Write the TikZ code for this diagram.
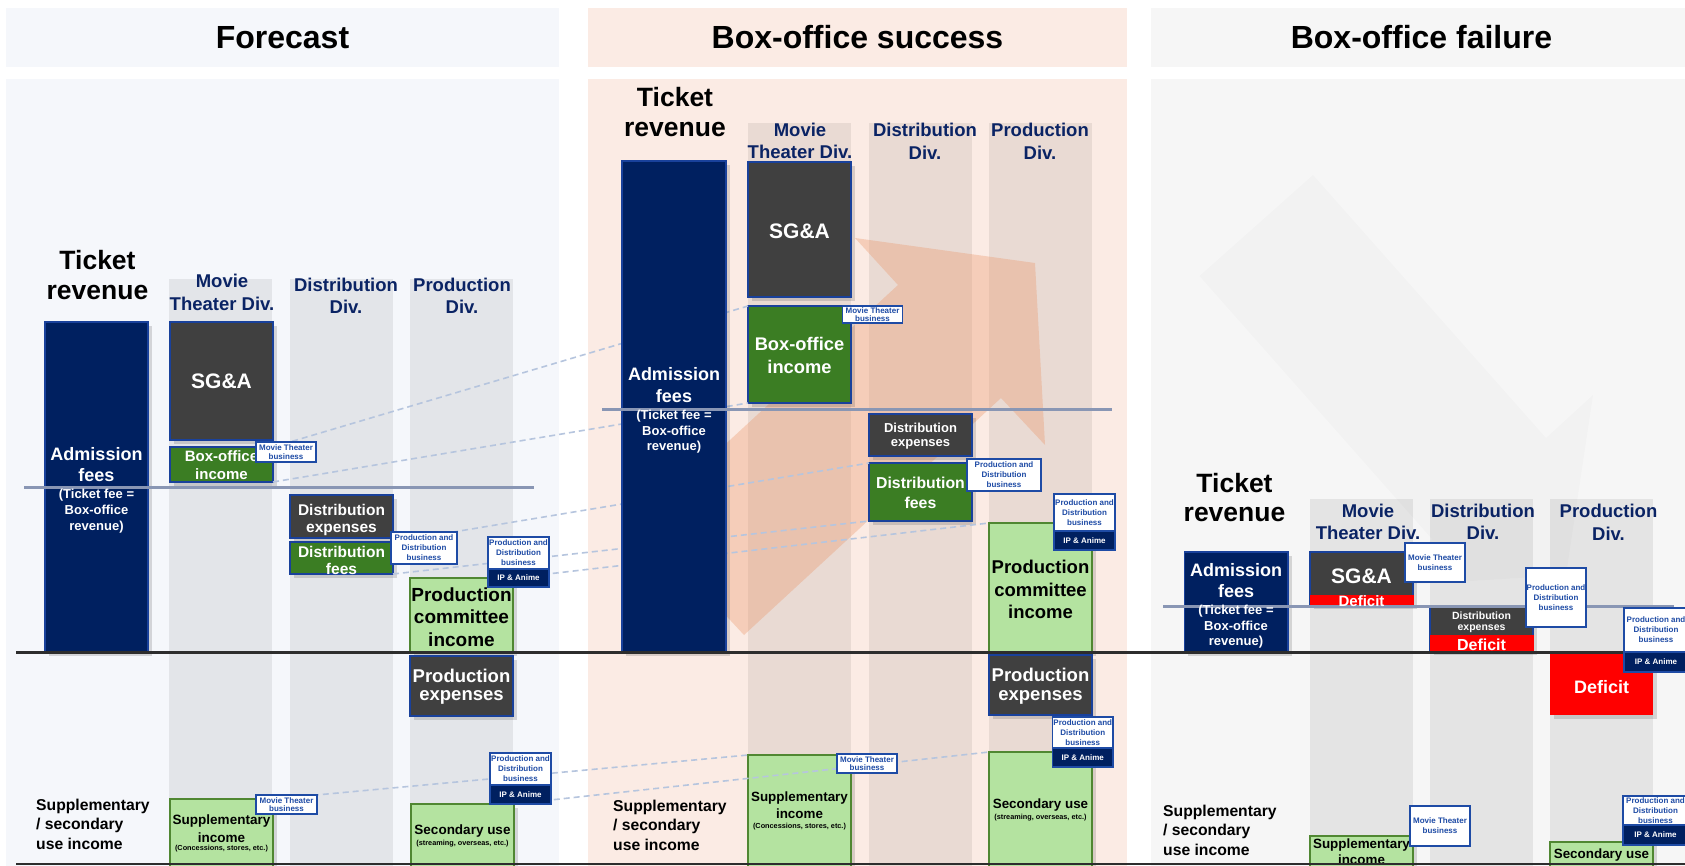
\documentclass[tikz,border=0pt]{standalone}
\usepackage{fontspec}
\setmainfont{Liberation Sans}
\usetikzlibrary{shadows}
\definecolor{navy}{RGB}{0,32,96}
\definecolor{bord}{RGB}{25,65,155}
\definecolor{dgray}{RGB}{64,64,64}
\definecolor{dgreen}{RGB}{59,125,35}
\definecolor{lgreen}{RGB}{180,227,160}
\definecolor{lgborder}{RGB}{80,135,50}
\definecolor{tagblue}{RGB}{30,75,165}
\definecolor{midline}{RGB}{137,150,180}
\definecolor{basec}{RGB}{45,45,45}
\definecolor{dashc}{RGB}{182,197,222}
\definecolor{fbg}{RGB}{245,247,251}
\definecolor{sbg}{RGB}{251,235,228}
\definecolor{xbg}{RGB}{246,246,246}
\definecolor{arrowc}{RGB}{235,150,105}
\definecolor{divc}{RGB}{10,35,100}
\newcommand\myfs[2]{\fontsize{#1}{#2}\selectfont\bfseries}
\newcommand\mkrect[6]{\node[#2, anchor=north west, minimum width={(#5-#3)*1pt}, minimum height={(#6-#4)*1pt}] (#1) at (#3,#4) {};}
\newcommand\mytl[6]{\node[anchor=base, inner sep=0pt, text=#5, font=#4] (#1) at (#2,#3) {#6};}
\newcommand\mytll[6]{\node[anchor=base west, inner sep=0pt, text=#5, font=#4] (#1) at (#2,#3) {#6};}
\newcommand\mttag[6]{\mkrect{#1}{tagbox}{#2}{#3}{#4}{#5}
  \node[tagtxt, font=\myfs{8}{#6}] (#1t) at (#1.center) {Movie Theater\\business};}
\newcommand\pdtag[5]{\mkrect{#1}{tagbox}{#2}{#3}{#4}{#5}
  \node[tagtxt] (#1t) at (#1.center) {Production and\\Distribution\\business};}
\newcommand\iptag[6]{\mkrect{#1}{tagbox}{#2}{#3}{#4}{#5}
  \mkrect{#1n}{ipbox}{#2}{#5}{#4}{#6}
  \node[tagtxt] (#1t) at (#1.center) {Production and\\Distribution\\business};
  \node[tagtxt, text=white] (#1i) at (#1n.center) {IP \& Anime};}
\tikzset{
 panel/.style={draw=none, inner sep=0pt, outer sep=0pt},
 band/.style={draw=none, fill=black, fill opacity=0.07, inner sep=0pt, outer sep=0pt},
 shad/.style={drop shadow={shadow xshift=3.5pt, shadow yshift=-3.5pt, opacity=0.2, fill=black!70}},
 boxbase/.style={line width=1.5pt, inner sep=0pt, outer sep=0pt, shad},
 navybox/.style={boxbase, draw=bord, fill=navy},
 graybox/.style={boxbase, draw=bord, fill=dgray},
 greenbox/.style={boxbase, draw=bord, fill=dgreen},
 lightbox/.style={boxbase, draw=lgborder, fill=lgreen},
 redstrip/.style={draw=none, fill=red, inner sep=0pt, outer sep=0pt},
 redbox/.style={redstrip, shad},
 tagbox/.style={draw=tagblue, fill=white, line width=1.2pt, inner sep=0pt, outer sep=0pt},
 ipbox/.style={draw=tagblue, fill=navy, line width=1.2pt, inner sep=0pt, outer sep=0pt},
 tagtxt/.style={text=tagblue, align=center, inner sep=0pt, font=\myfs{8}{10}},
 dashline/.style={draw=dashc, line width=1.6pt, dash pattern=on 6pt off 4pt},
 midl/.style={draw=midline, line width=3pt},
 basel/.style={draw=basec, line width=2.5pt},
}
\begin{document}
\begin{tikzpicture}[x=1pt,y=-1pt]
\useasboundingbox (0,0) rectangle (1685,865);
\begin{scope}
\clip (0,0) rectangle (1685,865);
\fill[white] (0,0) rectangle (1685,865);
% panels
\mkrect{fhead}{panel, fill=fbg}{6}{8}{559}{67}
\mkrect{fbody}{panel, fill=fbg}{6}{79}{559}{866}
\mkrect{shead}{panel, fill=sbg}{587.5}{8}{1127}{67}
\mkrect{sbody}{panel, fill=sbg}{587.5}{79}{1127}{866}
\mkrect{xhead}{panel, fill=xbg}{1151}{8}{1690}{67}
\mkrect{xbody}{panel, fill=xbg}{1151}{79}{1690}{866}
% bands
\mkrect{fb1}{band}{169}{279}{272}{866}
\mkrect{fb2}{band}{290}{279}{393}{866}
\mkrect{fb3}{band}{410}{279}{513}{866}
\mkrect{sb1}{band}{748}{123}{851}{866}
\mkrect{sb2}{band}{869}{123}{972}{866}
\mkrect{sb3}{band}{989}{123}{1092}{866}
\mkrect{xb1}{band}{1310}{499}{1413}{866}
\mkrect{xb2}{band}{1430}{499}{1533}{866}
\mkrect{xb3}{band}{1550}{499}{1653}{866}
% arrows
\fill[arrowc, opacity=0.35] (640,523) -- (898,285) -- (855,238) -- (1035,263) -- (1045,445) -- (1001,398) -- (744,635) -- cycle;
\fill[black, opacity=0.017] (1199.5,276) -- (1313,175) -- (1546,438) -- (1593,395) -- (1566,575) -- (1389,586) -- (1432,539) -- cycle;
% forecast boxes
\mkrect{fsga}{graybox}{170}{322}{273}{440}
\mkrect{fbo}{greenbox}{170}{447}{273}{482}
\mkrect{fdx}{graybox}{290}{495}{393}{538}
\mkrect{fdf}{greenbox}{290}{542}{393}{574}
\mkrect{fpci}{lightbox}{410}{578}{513}{652}
\mkrect{fpx}{graybox}{410}{656}{513}{716}
\mkrect{fsup}{lightbox}{170}{799}{273}{872}
\mkrect{fsec}{lightbox}{411}{804}{514}{872}
% success boxes
\mkrect{ssga}{graybox}{748}{162}{851}{297}
\mkrect{sbo}{greenbox}{748}{306}{851}{403}
\mkrect{sdx}{graybox}{869}{414}{972}{456}
\mkrect{sdf}{greenbox}{869}{463}{972}{521}
\mkrect{spci}{lightbox}{989}{523}{1092}{652}
\mkrect{spx}{graybox}{989}{655}{1092}{715}
\mkrect{ssup}{lightbox}{748}{755}{851}{872}
\mkrect{ssec}{lightbox}{989}{752}{1092}{872}
% failure boxes
\mkrect{xsga}{graybox}{1310}{552}{1413}{605}
\mkrect{xsgad}{redstrip}{1309.5}{595}{1413.5}{605.5}
\mkrect{xdx}{graybox}{1430}{607}{1533}{651}
\mkrect{xdxd}{redstrip}{1429.5}{635}{1533.5}{651.5}
\mkrect{xpd}{redbox}{1550}{652}{1653}{715}
\mkrect{xsup}{lightbox}{1310}{836}{1413}{872}
\mkrect{xsec}{lightbox}{1550}{842}{1653}{872}
% box texts (forecast)
\mytl{fsgat}{221.5}{388.5}{\myfs{21}{24}}{white}{SG\&A}
\mytl{fbot1}{221.5}{461.5}{\myfs{15}{18}}{white}{Box-office}
\mytl{fbot2}{221.5}{479.5}{\myfs{15}{18}}{white}{income}
\mytl{fdxt1}{341.5}{515}{\myfs{15.5}{18}}{white}{Distribution}
\mytl{fdxt2}{341.5}{532}{\myfs{15.5}{18}}{white}{expenses}
\mytl{fdft1}{341.5}{557}{\myfs{15.5}{18}}{white}{Distribution}
\mytl{fdft2}{341.5}{574}{\myfs{15.5}{18}}{white}{fees}
\mytl{fpcit1}{461.5}{601.5}{\myfs{19}{22}}{black}{Production}
\mytl{fpcit2}{461.5}{623.5}{\myfs{19}{22}}{black}{committee}
\mytl{fpcit3}{461.5}{646}{\myfs{19}{22}}{black}{income}
\mytl{fpxt1}{461.5}{682.5}{\myfs{18.5}{21}}{white}{Production}
\mytl{fpxt2}{461.5}{700.5}{\myfs{18.5}{21}}{white}{expenses}
\mytl{fsupt1}{221.5}{824.5}{\myfs{13.5}{16}}{black}{Supplementary}
\mytl{fsupt2}{221.5}{842}{\myfs{13.5}{16}}{black}{income}
\mytl{fsupt3}{221.5}{850.5}{\myfs{7.3}{8}}{black}{(Concessions, stores, etc.)}
\mytl{fsect1}{462.5}{834.5}{\myfs{13.5}{16}}{black}{Secondary use}
\mytl{fsect2}{462.5}{845.5}{\myfs{7.3}{8}}{black}{(streaming, overseas, etc.)}
% box texts (success)
\mytl{ssgat}{799.5}{238.5}{\myfs{21}{24}}{white}{SG\&A}
\mytl{sbot1}{799.5}{350.5}{\myfs{18.3}{22}}{white}{Box-office}
\mytl{sbot2}{799.5}{373}{\myfs{18.3}{22}}{white}{income}
\mytl{sdxt1}{920.5}{432}{\myfs{13}{16}}{white}{Distribution}
\mytl{sdxt2}{920.5}{446}{\myfs{13}{16}}{white}{expenses}
\mytl{sdft1}{920.5}{488}{\myfs{15.8}{20}}{white}{Distribution}
\mytl{sdft2}{920.5}{508.5}{\myfs{15.8}{20}}{white}{fees}
\mytl{spcit1}{1040.5}{573}{\myfs{18.5}{22}}{black}{Production}
\mytl{spcit2}{1040.5}{596}{\myfs{18.5}{22}}{black}{committee}
\mytl{spcit3}{1040.5}{618}{\myfs{18.5}{22}}{black}{income}
\mytl{spxt1}{1040.5}{681.5}{\myfs{18.5}{21}}{white}{Production}
\mytl{spxt2}{1040.5}{700}{\myfs{18.5}{21}}{white}{expenses}
\mytl{ssupt1}{799.5}{801.5}{\myfs{13.4}{16}}{black}{Supplementary}
\mytl{ssupt2}{799.5}{818.5}{\myfs{13.4}{16}}{black}{income}
\mytl{ssupt3}{799.5}{828.5}{\myfs{7.3}{8}}{black}{(Concessions, stores, etc.)}
\mytl{ssect1}{1040.5}{808.5}{\myfs{13.4}{16}}{black}{Secondary use}
\mytl{ssect2}{1040.5}{819}{\myfs{7.3}{8}}{black}{(streaming, overseas, etc.)}
% box texts (failure)
\mytl{xsgat}{1361.5}{583}{\myfs{21}{24}}{white}{SG\&A}
\mytl{xdxt1}{1481.5}{619}{\myfs{10.5}{12}}{white}{Distribution}
\mytl{xdxt2}{1481.5}{630}{\myfs{10.5}{12}}{white}{expenses}
\mytl{xdxdt}{1481.5}{650}{\myfs{16}{18}}{white}{Deficit}
\mytl{xpdt}{1601.5}{693}{\myfs{18}{20}}{white}{Deficit}
\mytl{xsupt1}{1361.5}{848}{\myfs{13.4}{16}}{black}{Supplementary}
\mytl{xsupt2}{1361.5}{864.5}{\myfs{13.4}{16}}{black}{income}
\mytl{xsect1}{1601.5}{858.5}{\myfs{13.4}{16}}{black}{Secondary use}
% dashed connectors forecast -> success
\draw[dashline] (fbo.north east) -- (sbo.north west);
\draw[dashline] (fbo.south east) -- (sbo.south west);
\draw[dashline] (fdf.north east) -- (sdf.north west);
\draw[dashline] (fdf.south east) -- (sdf.south west);
\draw[dashline] (fpci.north east) -- (spci.north west);
\draw[dashline] (fsup.north east) -- (ssup.north west);
\draw[dashline] (fsec.north east) -- (ssec.north west);
% admission boxes
\mkrect{fadm}{navybox}{45}{322}{148}{652}
\mkrect{sadm}{navybox}{622}{161}{726}{652}
\mkrect{xadm}{navybox}{1184.5}{552}{1288}{652}
% horizontal lines
\draw[midl] (24,487) -- (534,487);
\draw[midl] (602,409) -- (1112,409);
\draw[midl] (1163,606) -- (1673.5,606);
\draw[basel] (16,652.5) -- (1690,652.5);
\draw[basel, line width=2pt] (16,864) -- (1690,864);
% texts drawn over the lines
\mytl{xsgadt}{1361.5}{606}{\myfs{15}{18}}{white}{Deficit}
\mytl{fadm1}{96.5}{460}{\myfs{18}{22}}{white}{Admission}
\mytl{fadm2}{96.5}{481.5}{\myfs{18}{22}}{white}{fees}
\mytl{fadm3}{96.5}{498}{\myfs{13}{16}}{white}{(Ticket fee =}
\mytl{fadm4}{96.5}{514.5}{\myfs{13}{16}}{white}{Box-office}
\mytl{fadm5}{96.5}{530}{\myfs{13}{16}}{white}{revenue)}
\mytl{sadm1}{674}{380}{\myfs{18}{22}}{white}{Admission}
\mytl{sadm2}{674}{402}{\myfs{18}{22}}{white}{fees}
\mytl{sadm3}{674}{419}{\myfs{13}{16}}{white}{(Ticket fee =}
\mytl{sadm4}{674}{435}{\myfs{13}{16}}{white}{Box-office}
\mytl{sadm5}{674}{450.5}{\myfs{13}{16}}{white}{revenue)}
\mytl{xadm1}{1236}{576}{\myfs{18}{22}}{white}{Admission}
\mytl{xadm2}{1236}{597}{\myfs{18}{22}}{white}{fees}
\mytl{xadm3}{1236}{614}{\myfs{13}{16}}{white}{(Ticket fee =}
\mytl{xadm4}{1236}{630}{\myfs{13}{16}}{white}{Box-office}
\mytl{xadm5}{1236}{645.5}{\myfs{13}{16}}{white}{revenue)}
% tags
\mttag{ftag1}{256}{442}{316}{462}{8.5}
\pdtag{ftag2}{391}{532}{457}{564}
\iptag{ftag3}{488}{537}{549}{569}{587}
\mttag{ftag4}{256}{795}{317}{814}{8.5}
\iptag{ftag5}{490}{753}{551}{785}{804}
\mttag{stag1}{842.5}{306}{902.5}{323}{8.5}
\pdtag{stag2}{967}{459}{1041}{491}
\iptag{stag3}{1054}{494}{1115}{531}{550}
\iptag{stag4}{1052.5}{717}{1113}{748}{767}
\mttag{stag5}{837}{754}{897}{773}{8.5}
\mttag{xtag1}{1405}{543}{1465}{582}{10}
\pdtag{xtag2}{1526}{568}{1586}{627}
\iptag{xtag3}{1624}{608}{1688}{652}{672}
\mttag{xtag4}{1410}{806}{1470}{846}{10}
\iptag{xtag5}{1623}{796}{1688}{825}{845}
% headers
\mytl{tF}{282.5}{48}{\myfs{32}{36}}{black}{Forecast}
\mytl{tS}{857.5}{48}{\myfs{32}{36}}{black}{Box-office success}
\mytl{tX}{1421.5}{48}{\myfs{32}{36}}{black}{Box-office failure}
% ticket revenue
\mytl{fTR1}{97.5}{269.5}{\myfs{26.5}{30}}{black}{Ticket}
\mytl{fTR2}{97.5}{299}{\myfs{26.5}{30}}{black}{revenue}
\mytl{sTR1}{675}{106.5}{\myfs{26.5}{30}}{black}{Ticket}
\mytl{sTR2}{675}{136}{\myfs{26.5}{30}}{black}{revenue}
\mytl{xTR1}{1234.5}{492}{\myfs{26.5}{30}}{black}{Ticket}
\mytl{xTR2}{1234.5}{521}{\myfs{26.5}{30}}{black}{revenue}
% division labels
\mytl{fD1a}{222}{287}{\myfs{18.5}{22}}{divc}{Movie}
\mytl{fD1b}{222}{310}{\myfs{18.5}{22}}{divc}{Theater Div.}
\mytl{fD2a}{346}{291}{\myfs{18.5}{22}}{divc}{Distribution}
\mytl{fD2b}{346}{313}{\myfs{18.5}{22}}{divc}{Div.}
\mytl{fD3a}{462}{291}{\myfs{18.5}{22}}{divc}{Production}
\mytl{fD3b}{462}{313}{\myfs{18.5}{22}}{divc}{Div.}
\mytl{sD1a}{800}{136}{\myfs{18.5}{22}}{divc}{Movie}
\mytl{sD1b}{800}{158}{\myfs{18.5}{22}}{divc}{Theater Div.}
\mytl{sD2a}{925}{136}{\myfs{18.5}{22}}{divc}{Distribution}
\mytl{sD2b}{925}{159}{\myfs{18.5}{22}}{divc}{Div.}
\mytl{sD3a}{1040}{136.5}{\myfs{18.5}{22}}{divc}{Production}
\mytl{sD3b}{1040}{159}{\myfs{18.5}{22}}{divc}{Div.}
\mytl{xD1a}{1368}{517}{\myfs{18.5}{22}}{divc}{Movie}
\mytl{xD1b}{1368}{539}{\myfs{18.5}{22}}{divc}{Theater Div.}
\mytl{xD2a}{1483}{517}{\myfs{18.5}{22}}{divc}{Distribution}
\mytl{xD2b}{1483}{539}{\myfs{18.5}{22}}{divc}{Div.}
\mytl{xD3a}{1608.5}{517.5}{\myfs{18.5}{22}}{divc}{Production}
\mytl{xD3b}{1608.5}{540}{\myfs{18.5}{22}}{divc}{Div.}
% supplementary labels
\mytll{fL1}{36}{810}{\myfs{15.7}{19}}{black}{Supplementary}
\mytll{fL2}{36}{829.5}{\myfs{15.7}{19}}{black}{/ secondary}
\mytll{fL3}{36}{849}{\myfs{15.7}{19}}{black}{use income}
\mytll{sL1}{613}{811}{\myfs{15.7}{19}}{black}{Supplementary}
\mytll{sL2}{613}{830}{\myfs{15.7}{19}}{black}{/ secondary}
\mytll{sL3}{613}{850}{\myfs{15.7}{19}}{black}{use income}
\mytll{xL1}{1163}{816}{\myfs{15.7}{19}}{black}{Supplementary}
\mytll{xL2}{1163}{835}{\myfs{15.7}{19}}{black}{/ secondary}
\mytll{xL3}{1163}{855}{\myfs{15.7}{19}}{black}{use income}
\end{scope}
\end{tikzpicture}
\end{document}
